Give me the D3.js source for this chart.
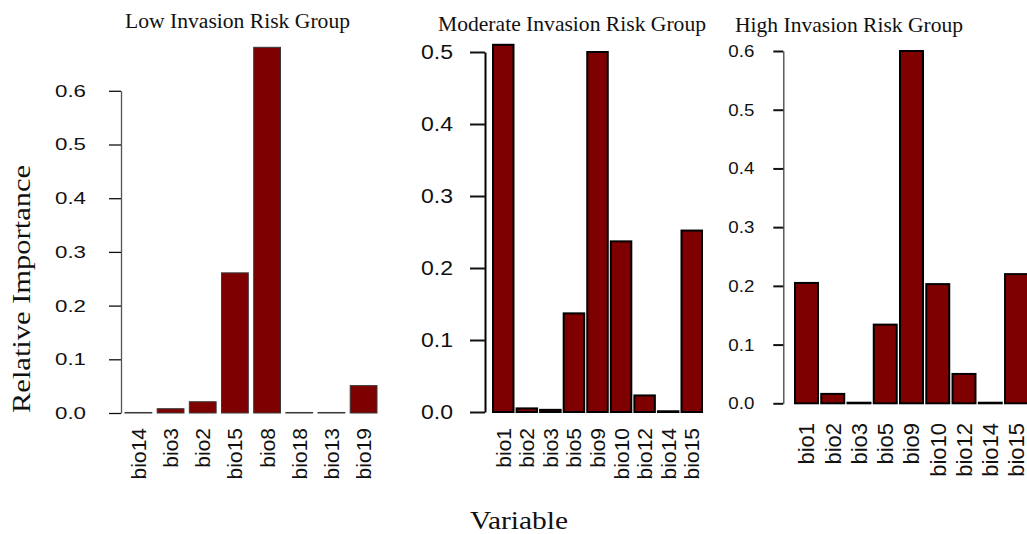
<!DOCTYPE html>
<html>
<head>
<meta charset="utf-8">
<script src="https://cdn.jsdelivr.net/npm/d3@7"></script>
<style>
  body { margin: 0; background: #fff; }
  svg text { fill: #111; }
</style>
</head>
<body>
<div id="chart"></div>
<script>
// Data
var lowVars = ["bio14", "bio3", "bio2", "bio15", "bio8", "bio18", "bio13", "bio19"];
var lowValues = [0.001, 0.008, 0.021, 0.261, 0.681, 0.001, 0.001, 0.051];

var modVars = ["bio1", "bio2", "bio3", "bio5", "bio9", "bio10", "bio12", "bio14", "bio15"];
var modValues = [0.510, 0.005, 0.003, 0.137, 0.500, 0.237, 0.023, 0.001, 0.252];

var highVars = ["bio1", "bio2", "bio3", "bio5", "bio9", "bio10", "bio12", "bio14", "bio15"];
var highValues = [0.205, 0.016, 0.001, 0.134, 0.600, 0.203, 0.050, 0.001, 0.220];

var lowTicks = [0, 0.1, 0.2, 0.3, 0.4, 0.5, 0.6];
var modTicks = [0, 0.1, 0.2, 0.3, 0.4, 0.5];
var highTicks = [0, 0.1, 0.2, 0.3, 0.4, 0.5, 0.6];

var titles = ["Low Invasion Risk Group", "Moderate Invasion Risk Group", "High Invasion Risk Group"];

function init() {
    var w = 1027;
    var h = 534;
    var barColor = "#7f0000";

    var svg = d3.select("#chart")
        .append("svg")
        .attr("width", w)
        .attr("height", h);

    // panel layout (pixel geometry only)
    var panels = [
        { vars: lowVars, values: lowValues, ticks: lowTicks, title: titles[0],
          x0: 125, x1: 377, pad: 0.167, y0: 413, y1: 90.8, ymax: 0.6,
          axisX: 121, tickLen: 12, tickPad: 23, tickFont: 17, tickW: 31,
          axisColor: "#555", axisW: 1.3, tickW2: 1.3,
          barStroke: "#3a3a3a", barStrokeW: 1,
          labTop: 428, labFont: 21,
          titleX: 237.5, titleY: 28, titleFont: 20, titleLen: 225 },
        { vars: modVars, values: modValues, ticks: modTicks, title: titles[1],
          x0: 493, x1: 702, pad: 0.13, y0: 412, y1: 52, ymax: 0.5,
          axisX: 485, tickLen: 15, tickPad: 17, tickFont: 19.5, tickW: 32,
          axisColor: "#000", axisW: 2, tickW2: 2,
          barStroke: "#000", barStrokeW: 2,
          labTop: 428, labFont: 21,
          titleX: 572, titleY: 30.5, titleFont: 21, titleLen: 268 },
        { vars: highVars, values: highValues, ticks: highTicks, title: titles[2],
          x0: 795, x1: 1028, pad: 0.125, y0: 403.3, y1: 51, ymax: 0.6,
          axisX: 783.3, tickLen: 10, tickPad: 19, tickFont: 17, tickW: 26,
          axisColor: "#444", axisW: 1.3, tickW2: 2,
          barStroke: "#000", barStrokeW: 2,
          labTop: 423, labFont: 22,
          titleX: 849, titleY: 31.5, titleFont: 21, titleLen: 228 }
    ];

    panels.forEach(function(p) {
        var g = svg.append("g");

        var xScale = d3.scaleBand()
            .domain(p.vars)
            .range([p.x0, p.x1])
            .paddingInner(p.pad)
            .paddingOuter(0);

        var yScale = d3.scaleLinear()
            .domain([0, p.ymax])
            .range([p.y0, p.y1]);

        // bars
        g.selectAll("rect")
            .data(p.vars)
            .enter()
            .append("rect")
            .attr("x", function(d) { return xScale(d); })
            .attr("width", xScale.bandwidth())
            .attr("y", function(d, i) { return yScale(p.values[i]); })
            .attr("height", function(d, i) { return yScale(0) - yScale(p.values[i]); })
            .attr("fill", barColor)
            .attr("stroke", p.barStroke)
            .attr("stroke-width", p.barStrokeW);

        // y axis
        var yAxis = d3.axisLeft(yScale)
            .tickValues(p.ticks)
            .tickFormat(d3.format(".1f"))
            .tickSize(p.tickLen)
            .tickSizeOuter(0)
            .tickPadding(p.tickPad);

        var ax = g.append("g")
            .attr("transform", "translate(" + p.axisX + ",0)")
            .call(yAxis);
        ax.select(".domain")
            .attr("stroke", p.axisColor)
            .attr("stroke-width", p.axisW);
        ax.selectAll(".tick line")
            .attr("stroke", "#111")
            .attr("stroke-width", p.tickW2);
        ax.selectAll(".tick text")
            .attr("font-family", "Liberation Sans, Arial, sans-serif")
            .attr("font-size", p.tickFont)
            .attr("fill", "#111")
            .attr("textLength", p.tickW)
            .attr("lengthAdjust", "spacingAndGlyphs");

        // rotated category labels
        g.selectAll(".xlab")
            .data(p.vars)
            .enter()
            .append("text")
            .attr("class", "xlab")
            .attr("transform", function(d) {
                return "translate(" + (xScale(d) + xScale.bandwidth() / 2) + "," + p.labTop + ") rotate(-90)";
            })
            .attr("text-anchor", "end")
            .attr("dy", "0.36em")
            .attr("font-family", "Liberation Sans, Arial, sans-serif")
            .attr("font-size", p.labFont)
            .attr("fill", "#2a2a2a")
            .text(function(d) { return d; });

        // panel title
        g.append("text")
            .attr("x", p.titleX)
            .attr("y", p.titleY)
            .attr("text-anchor", "middle")
            .attr("font-family", "Liberation Serif, Times New Roman, serif")
            .attr("font-size", p.titleFont)
            .attr("fill", "#1a1a1a")
            .attr("textLength", p.titleLen)
            .attr("lengthAdjust", "spacingAndGlyphs")
            .text(p.title);
    });

    // shared axis titles
    svg.append("text")
        .attr("transform", "translate(30,289) rotate(-90)")
        .attr("text-anchor", "middle")
        .attr("font-family", "Liberation Serif, Times New Roman, serif")
        .attr("font-size", 25)
        .attr("fill", "#1a1a1a")
        .attr("textLength", 248)
        .attr("lengthAdjust", "spacingAndGlyphs")
        .text("Relative Importance");

    svg.append("text")
        .attr("x", 519)
        .attr("y", 529)
        .attr("text-anchor", "middle")
        .attr("font-family", "Liberation Serif, Times New Roman, serif")
        .attr("font-size", 25)
        .attr("fill", "#1a1a1a")
        .attr("textLength", 98)
        .attr("lengthAdjust", "spacingAndGlyphs")
        .text("Variable");
}

window.onload = init;
</script>
</body>
</html>
